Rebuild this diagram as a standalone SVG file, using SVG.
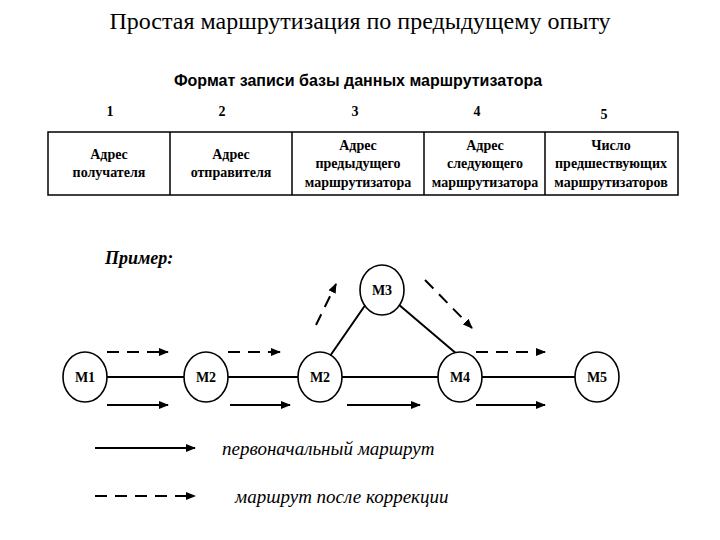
<svg xmlns="http://www.w3.org/2000/svg" width="720" height="540" viewBox="0 0 720 540">
<style>
.s{font-family:"Liberation Serif",serif;font-weight:bold;font-size:14px;text-anchor:middle}
.n{fill:#fff;stroke:#000;stroke-width:1.6}
.l{stroke:#000;stroke-width:2;fill:none;marker-end:url(#a)}
.d{stroke:#000;stroke-width:2;fill:none;stroke-dasharray:12,8;marker-end:url(#a)}
.c{font-family:"Liberation Serif",serif;font-size:14px;text-anchor:middle;font-weight:bold}
</style>
<defs><marker id="a" markerWidth="10" markerHeight="8" refX="9" refY="4" orient="auto" markerUnits="userSpaceOnUse"><path d="M0,0L10,4L0,8z"/></marker></defs>
<rect width="720" height="540" fill="#fff"/>
<text x="360" y="29" font-family="Liberation Serif,serif" font-size="24" text-anchor="middle">Простая маршрутизация по предыдущему опыту</text>
<text x="358" y="86" font-family="Liberation Sans,sans-serif" font-weight="bold" font-size="16" text-anchor="middle">Формат записи базы данных маршрутизатора</text>
<g id="table">
<g class="c"><text x="110" y="116">1</text><text x="222" y="116">2</text><text x="355" y="116">3</text><text x="477" y="116">4</text><text x="604" y="119">5</text></g>
<rect x="48" y="132" width="630" height="63" fill="none" stroke="#000" stroke-width="1.5"/>
<path d="M170,132V195M292,132V195M424,132V195M545,132V195" stroke="#000" stroke-width="1.5"/>
<g class="s">
<text x="109" y="159">Адрес</text><text x="109" y="177">получателя</text>
<text x="231" y="159">Адрес</text><text x="231" y="177">отправителя</text>
<text x="358" y="150">Адрес</text><text x="358" y="168">предыдущего</text><text x="358" y="187">маршрутизатора</text>
<text x="485" y="150">Адрес</text><text x="485" y="168">следующего</text><text x="485" y="187">маршрутизатора</text>
<text x="611" y="150">Число</text><text x="611" y="168">предшествующих</text><text x="611" y="187">маршрутизаторов</text>
</g></g>
<text x="105" y="264" font-family="Liberation Serif,serif" font-weight="bold" font-style="italic" font-size="18">Пример:</text>
<g id="connectors">
<path d="M107,377H184M228,377H298M342,377H438M482,377H575M330,356L366,304M398,304L458,355" stroke="#000" stroke-width="2" fill="none"/>
<path class="l" d="M107,405H168"/><path class="l" d="M230,405H290"/><path class="l" d="M347,405H420"/><path class="l" d="M476,405H545"/><path class="l" d="M95,448H195"/>
<path class="d" d="M107,352H168"/><path class="d" d="M228,352H280"/><path class="d" d="M476,352H545"/><path class="d" d="M316,325L336,284"/><path class="d" d="M425,280L472,328"/><path class="d" d="M95,496H195"/>
</g>
<g class="c">
<g id="M1"><ellipse class="n" cx="85" cy="377" rx="22" ry="25"/><text x="85" y="382">M1</text></g>
<g id="M2a"><ellipse class="n" cx="206" cy="377" rx="22" ry="25"/><text x="206" y="382">M2</text></g>
<g id="M2b"><ellipse class="n" cx="320" cy="377" rx="22" ry="25"/><text x="320" y="382">M2</text></g>
<g id="M3"><ellipse class="n" cx="382" cy="290" rx="22" ry="25"/><text x="382" y="295">M3</text></g>
<g id="M4"><ellipse class="n" cx="460" cy="377" rx="22" ry="25"/><text x="460" y="382">M4</text></g>
<g id="M5"><ellipse class="n" cx="597" cy="377" rx="22" ry="25"/><text x="597" y="382">M5</text></g>
</g>
<g font-family="Liberation Serif,serif" font-style="italic" font-size="19">
<text x="222" y="455">первоначальный маршрут</text>
<text x="235" y="503">маршрут после коррекции</text>
</g>
</svg>
